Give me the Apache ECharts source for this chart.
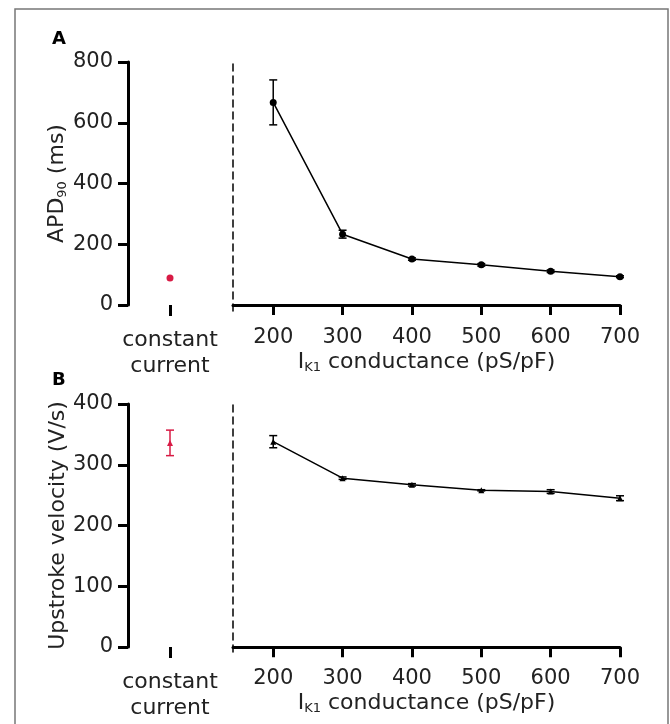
<!DOCTYPE html>
<html>
<head>
<meta charset="utf-8">
<script src="https://cdn.jsdelivr.net/npm/echarts@6/dist/echarts.min.js"></script>
<style>
  html, body { margin: 0; padding: 0; background: #fff; }
  #main { width: 670px; height: 724px; }
</style>
</head>
<body>
<div id="main"></div>
<script>
// IK1 conductance values (pS/pF)
const conductance = [200, 300, 400, 500, 600, 700];
// panel A: APD90 (ms)
const apdMean = [667, 233, 151, 132, 111, 93];
const apdErr = [74, 13, 4, 4, 4, 3];
const constApdMean = [89];
// panel B: upstroke velocity (V/s)
const vMean = [338, 278, 267, 258, 256, 245];
const vErr = [10, 2, 2, 1, 3, 4];
const constVMean = [336];
const constVErr = [21];
const constCat = ['constant\ncurrent'];

const FONT = 'DejaVu Sans';
const RED = '#d81b45';

// error bar drawer (vertical line + caps)
function errBars(color) {
  return function (params, api) {
    const x = api.value(0), m = api.value(1), e = api.value(2);
    const top = api.coord([x, m + e]);
    const bot = api.coord([x, m - e]);
    const style = { stroke: color, lineWidth: 1.5 };
    const w = 4;
    return {
      type: 'group',
      children: [
        { type: 'line', shape: { x1: top[0], y1: top[1], x2: bot[0], y2: bot[1] }, style: style },
        { type: 'line', shape: { x1: top[0] - w, y1: top[1], x2: top[0] + w, y2: top[1] }, style: style },
        { type: 'line', shape: { x1: bot[0] - w, y1: bot[1], x2: bot[0] + w, y2: bot[1] }, style: style }
      ]
    };
  };
}

function leftY(gridIndex, max, interval, name) {
  return {
    type: 'value', gridIndex: gridIndex, min: 0, max: max, interval: interval,
    axisLine: { show: true, lineStyle: { color: '#000', width: 3 } },
    axisTick: { show: true, length: 10, lineStyle: { color: '#000', width: 3 } },
    axisLabel: { color: '#222', fontSize: 21, fontFamily: FONT, margin: 15 },
    splitLine: { show: false },
    name: name, nameLocation: 'middle', nameGap: 58,
    nameTextStyle: {
      color: '#222', fontSize: 22, fontFamily: FONT,
      rich: { sub: { fontSize: 13, fontFamily: FONT, color: '#222', padding: [10, 0, 0, 0] } }
    }
  };
}

function rightY(gridIndex, min, max) {
  return {
    type: 'value', gridIndex: gridIndex, min: min, max: max,
    axisLine: { show: true, lineStyle: { color: '#000', width: 1.5, type: [7, 5] } },
    axisTick: { show: false }, axisLabel: { show: false }, splitLine: { show: false }
  };
}

function leftX(gridIndex) {
  return {
    type: 'category', gridIndex: gridIndex, data: constCat, offset: 6,
    axisLine: { show: false },
    axisTick: { show: true, alignWithLabel: true, length: 11, lineStyle: { color: '#000', width: 3 } },
    axisLabel: { color: '#222', fontSize: 22, fontFamily: FONT, margin: 16, lineHeight: 26 }
  };
}

function rightX(gridIndex) {
  return {
    type: 'value', gridIndex: gridIndex, min: 142, max: 700,
    axisLine: { show: true, lineStyle: { color: '#000', width: 3 } },
    axisTick: { show: true, length: 10, customValues: conductance, lineStyle: { color: '#000', width: 3 } },
    axisLabel: { color: '#222', fontSize: 21, fontFamily: FONT, margin: 16, customValues: conductance },
    splitLine: { show: false },
    name: 'I{sub|K1} conductance (pS/pF)', nameLocation: 'middle', nameGap: 40,
    nameTextStyle: {
      color: '#222', fontSize: 22, fontFamily: FONT,
      rich: { sub: { fontSize: 13, fontFamily: FONT, color: '#222', padding: [10, 0, 0, 0] } }
    }
  };
}

const option = {
  backgroundColor: '#fff',
  animation: false,
  title: [
    { text: 'A', left: 47, top: 25, textStyle: { fontSize: 18, fontWeight: 'bold', fontFamily: FONT, color: '#000' } },
    { text: 'B', left: 47, top: 366, textStyle: { fontSize: 18, fontWeight: 'bold', fontFamily: FONT, color: '#000' } }
  ],
  graphic: [
    { type: 'rect', shape: { x: 15, y: 9, width: 653, height: 760 },
      style: { fill: 'none', stroke: '#777', lineWidth: 1.5 }, silent: true }
  ],
  grid: [
    { left: 128, width: 84, top: 62, height: 243 },
    { left: 233, width: 387, top: 62, height: 249 },
    { left: 128, width: 84, top: 404, height: 243 },
    { left: 233, width: 387, top: 404, height: 248 }
  ],
  xAxis: [leftX(0), rightX(1), leftX(2), rightX(3)],
  yAxis: [
    leftY(0, 800, 200, 'APD{sub|90} (ms)'),
    rightY(1, -20, 800),
    leftY(2, 400, 100, 'Upstroke velocity (V/s)'),
    rightY(3, -8, 400)
  ],
  series: [
    // panel A, constant current
    { type: 'scatter', xAxisIndex: 0, yAxisIndex: 0, symbol: 'circle', symbolSize: 7,
      itemStyle: { color: RED, opacity: 1 }, data: constApdMean.map((v, i) => [i, v]) },
    // panel A, IK1 sweep
    { type: 'line', xAxisIndex: 1, yAxisIndex: 1, symbol: 'circle', symbolSize: 7,
      lineStyle: { color: '#000', width: 1.5 }, itemStyle: { color: '#000' },
      data: conductance.map((c, i) => [c, apdMean[i]]) },
    { type: 'custom', xAxisIndex: 1, yAxisIndex: 1, renderItem: errBars('#000'),
      data: conductance.map((c, i) => [c, apdMean[i], apdErr[i]]) },
    // panel B, constant current
    { type: 'scatter', xAxisIndex: 2, yAxisIndex: 2, symbol: 'triangle', symbolSize: 6,
      itemStyle: { color: RED, opacity: 1 }, data: constVMean.map((v, i) => [i, v]) },
    { type: 'custom', xAxisIndex: 2, yAxisIndex: 2, renderItem: errBars(RED),
      data: constVMean.map((v, i) => [i, v, constVErr[i]]) },
    // panel B, IK1 sweep
    { type: 'line', xAxisIndex: 3, yAxisIndex: 3, symbol: 'triangle', symbolSize: 6,
      lineStyle: { color: '#000', width: 1.5 }, itemStyle: { color: '#000' },
      data: conductance.map((c, i) => [c, vMean[i]]) },
    { type: 'custom', xAxisIndex: 3, yAxisIndex: 3, renderItem: errBars('#000'),
      data: conductance.map((c, i) => [c, vMean[i], vErr[i]]) }
  ]
};

echarts.init(document.getElementById('main'), null, { renderer: 'canvas' }).setOption(option);
</script>
</body>
</html>
